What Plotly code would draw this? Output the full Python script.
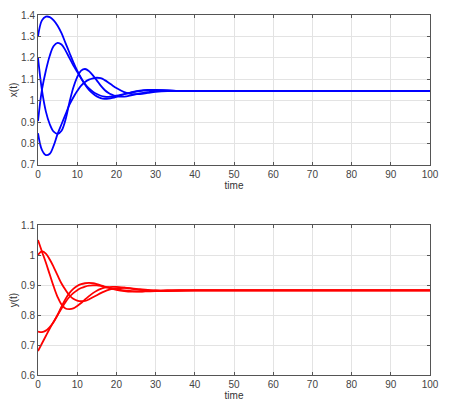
import plotly.graph_objects as go
from plotly.subplots import make_subplots

# time samples (shared by all curves)
t = [0, 1, 2, 3, 4, 5, 6, 7, 8, 9, 10, 11, 12, 13, 14, 15, 16, 17, 18, 19, 20,
     22, 24, 26, 28, 30, 33, 36, 40, 50, 60, 70, 80, 90, 100]

# x(t) trajectories
x_a = [1.30, 1.375, 1.392, 1.39, 1.375, 1.35, 1.315, 1.27, 1.225, 1.18, 1.14, 1.105, 1.075,
       1.05, 1.033, 1.02, 1.012, 1.009, 1.01, 1.013, 1.018, 1.03, 1.04, 1.047, 1.05, 1.05,
       1.048, 1.046, 1.045, 1.045, 1.045, 1.045, 1.045, 1.045, 1.045]
x_b = [1.20, 1.05, 0.95, 0.89, 0.855, 0.845, 0.86, 0.91, 0.99, 1.06, 1.11, 1.14, 1.148,
       1.138, 1.118, 1.095, 1.07, 1.05, 1.036, 1.027, 1.021, 1.019, 1.026, 1.034, 1.04, 1.045,
       1.046, 1.046, 1.045, 1.045, 1.045, 1.045, 1.045, 1.045, 1.045]
x_c = [0.905, 1.05, 1.14, 1.21, 1.255, 1.27, 1.262, 1.235, 1.2, 1.165, 1.135, 1.105, 1.078,
       1.057, 1.042, 1.031, 1.023, 1.019, 1.018, 1.02, 1.023, 1.031, 1.039, 1.045, 1.048, 1.049,
       1.048, 1.046, 1.045, 1.045, 1.045, 1.045, 1.045, 1.045, 1.045]
x_d = [0.848, 0.77, 0.746, 0.752, 0.79, 0.845, 0.89, 0.935, 0.98, 1.015, 1.045, 1.07, 1.087,
       1.098, 1.104, 1.107, 1.105, 1.096, 1.084, 1.071, 1.059, 1.04, 1.031, 1.031, 1.036, 1.041,
       1.045, 1.046, 1.045, 1.045, 1.045, 1.045, 1.045, 1.045, 1.045]

# y(t) trajectories
y_e = [1.05, 1.012, 0.975, 0.935, 0.895, 0.86, 0.835, 0.822, 0.82, 0.822, 0.83, 0.84, 0.852,
       0.863, 0.873, 0.881, 0.887, 0.891, 0.893, 0.894, 0.894, 0.891, 0.887, 0.884, 0.882, 0.881,
       0.881, 0.882, 0.882, 0.882, 0.882, 0.882, 0.882, 0.882, 0.882]
y_f = [1.0, 1.012, 1.005, 0.985, 0.96, 0.932, 0.905, 0.884, 0.866, 0.854, 0.848, 0.846, 0.847,
       0.852, 0.859, 0.866, 0.873, 0.879, 0.884, 0.887, 0.889, 0.891, 0.889, 0.886, 0.884, 0.882,
       0.881, 0.881, 0.882, 0.882, 0.882, 0.882, 0.882, 0.882, 0.882]
y_g = [0.745, 0.743, 0.748, 0.76, 0.777, 0.80, 0.828, 0.853, 0.873, 0.887, 0.897, 0.903, 0.906,
       0.907, 0.906, 0.903, 0.899, 0.895, 0.891, 0.887, 0.884, 0.88, 0.878, 0.878, 0.879, 0.88,
       0.881, 0.882, 0.882, 0.882, 0.882, 0.882, 0.882, 0.882, 0.882]
y_h = [0.68, 0.705, 0.73, 0.755, 0.778, 0.80, 0.822, 0.843, 0.86, 0.873, 0.883, 0.89, 0.895,
       0.898, 0.899, 0.899, 0.897, 0.894, 0.891, 0.888, 0.886, 0.882, 0.88, 0.879, 0.88, 0.881,
       0.882, 0.882, 0.882, 0.882, 0.882, 0.882, 0.882, 0.882, 0.882]

x_curves = [x_a, x_b, x_c, x_d]
y_curves = [y_e, y_f, y_g, y_h]

fig = make_subplots(rows=2, cols=1, vertical_spacing=0.167)

for xs in x_curves:
    fig.add_trace(go.Scatter(x=t, y=xs, mode='lines', line=dict(color='#0000ff', width=1.8, shape='spline'),
                             showlegend=False), row=1, col=1)
for ys in y_curves:
    fig.add_trace(go.Scatter(x=t, y=ys, mode='lines', line=dict(color='#ff0000', width=1.8, shape='spline'),
                             showlegend=False), row=2, col=1)

axis_style = dict(showline=True, linecolor='#555555', linewidth=1, mirror='allticks',
                  ticks='inside', ticklen=3, tickcolor='#555555',
                  showgrid=True, gridcolor='#e3e3e3', zeroline=False, automargin=False,
                  tickfont=dict(size=10, color='#444444'))

fig.update_xaxes(range=[0, 100], dtick=10, title=dict(text='time', font=dict(size=10, color='#333333'), standoff=2),
                 **axis_style)
fig.update_yaxes(range=[0.7, 1.4], dtick=0.1, title=dict(text='x(t)', font=dict(size=10, color='#333333'), standoff=2),
                 row=1, col=1, **axis_style)
fig.update_yaxes(range=[0.6, 1.1], dtick=0.1, title=dict(text='y(t)', font=dict(size=10, color='#333333'), standoff=2),
                 row=2, col=1, **axis_style)

# page body adds an 8px offset, so the figure is a bit smaller than the window
fig.update_layout(
    width=442, height=406,
    margin=dict(l=30, r=20, t=7, b=39),
    paper_bgcolor='white', plot_bgcolor='white',
    font=dict(family='Liberation Sans, Arial, sans-serif'),
)

fig.write_html("out.html")
